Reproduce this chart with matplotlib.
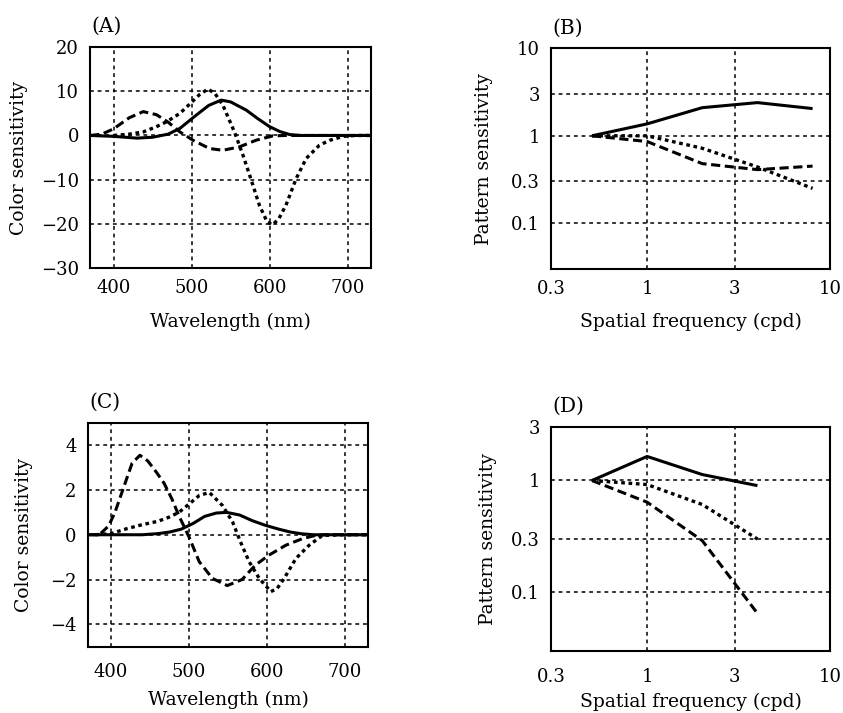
import matplotlib.pyplot as plt
import numpy as np

plt.rcParams['font.family'] = ['DejaVu Serif']

# (A) color sensitivity, wavelength in nm
a_solid_wl = [370, 400, 430, 450, 470, 485, 506, 522, 538, 550, 570, 585, 600, 613, 626, 640, 730]
a_solid = [0, -0.2, -0.6, -0.4, 0.3, 1.6, 4.6, 6.8, 8.0, 7.6, 5.75, 3.8, 2.0, 0.9, 0.2, 0, 0]
a_dash_wl = [370, 385, 400, 420, 438, 455, 470, 485, 502, 523, 540, 561, 583, 604, 620, 730]
a_dash = [0, 0.3, 1.5, 4.0, 5.4, 4.7, 3.0, 0.8, -1.1, -2.95, -3.35, -2.6, -1.06, -0.1, 0, 0]
a_dot_wl = [400, 420, 438, 455, 468, 485, 497, 510, 521, 530, 540, 555, 566, 576, 587,
            597, 604, 612, 621, 634, 647, 664, 677, 695, 710, 730]
a_dot = [0, 0.3, 0.8, 2.0, 3.1, 5.0, 7.0, 9.2, 10.5, 9.5, 6.9, 0.8, -4.5, -9.8, -15.8,
         -19.6, -20.2, -18.8, -15.8, -9.8, -5.2, -2.2, -1.1, -0.2, 0, 0]

# (C) color sensitivity
c_solid_wl = [370, 440, 460, 475, 490, 505, 520, 535, 548, 565, 581, 598, 615, 630, 645, 660, 730]
c_solid = [0, 0, 0.05, 0.12, 0.25, 0.5, 0.82, 0.97, 1.0, 0.88, 0.63, 0.42, 0.25, 0.12, 0.04, 0, 0]
c_dash_wl = [370, 385, 397, 405, 415, 427, 437, 447, 458, 468, 478, 487, 500, 513, 530,
             549, 568, 585, 602, 624, 645, 662, 675, 730]
c_dash = [0, 0, 0.4, 1.0, 2.0, 3.2, 3.55, 3.3, 2.8, 2.3, 1.6, 0.85, -0.1, -1.2, -1.95,
          -2.27, -2.0, -1.36, -0.92, -0.47, -0.18, -0.03, 0, 0]
c_dot_wl = [380, 400, 420, 440, 460, 474, 487, 500, 513, 526, 543, 556, 566, 577, 590,
            605, 613, 622, 637, 654, 671, 700, 730]
c_dot = [0, 0.05, 0.27, 0.45, 0.6, 0.78, 1.0, 1.37, 1.75, 1.89, 1.3, 0.56, -0.32, -1.2, -1.95,
         -2.54, -2.4, -1.95, -1.06, -0.47, -0.03, 0, 0]

# (B), (D) pattern sensitivity vs spatial frequency (cpd)
b_freq = [0.5, 1, 2, 4, 8]
b_solid = [1, 1.37, 2.1, 2.4, 2.05]
b_dash = [1, 0.86, 0.48, 0.41, 0.45]
b_dot = [1, 1.0, 0.72, 0.44, 0.25]

d_freq = [0.5, 1, 2, 4]
d_solid = [1, 1.64, 1.13, 0.90]
d_dash = [1, 0.64, 0.29, 0.065]
d_dot = [1, 0.92, 0.61, 0.30]

wl_ticks = [400, 500, 600, 700]
a_yticks = [-30, -20, -10, 0, 10, 20]
c_yticks = [-4, -2, 0, 2, 4]
f_ticks = [0.3, 1, 3, 10]
f_labels = ['0.3', '1', '3', '10']
b_yticks = [0.1, 0.3, 1, 3, 10]
b_ylabels = ['0.1', '0.3', '1', '3', '10']
d_yticks = [0.1, 0.3, 1, 3]
d_ylabels = ['0.1', '0.3', '1', '3']

TICK = 13
LAB = 13.5

fig = plt.figure(figsize=(8.43, 7.13), dpi=100)
axA = fig.add_axes([0.107, 0.624, 0.333, 0.310])
axB = fig.add_axes([0.654, 0.623, 0.331, 0.309])
axC = fig.add_axes([0.104, 0.093, 0.333, 0.314])
axD = fig.add_axes([0.654, 0.087, 0.331, 0.314])

lw = 2.2
def curves(ax, x1, y1, x2, y2, x3, y3):
    ax.plot(x1, y1, color='black', lw=lw, solid_capstyle='butt')
    ax.plot(x2, y2, color='black', lw=lw, dashes=(3, 1.5))
    ax.plot(x3, y3, color='black', lw=2.4, dashes=(1.1, 1.1))

def style(ax, label):
    for s in ax.spines.values():
        s.set_linewidth(1.5)
    ax.tick_params(length=0, labelsize=TICK, pad=8)
    ax.minorticks_off()
    ax.grid(True, color='black', lw=1.1, dashes=(2.5, 2.5))
    ax.set_axisbelow(True)
    ax.text(0.005, 1.05, label, transform=ax.transAxes, fontsize=14.5, va='bottom', ha='left')

curves(axA, a_solid_wl, a_solid, a_dash_wl, a_dash, a_dot_wl, a_dot)
axA.set_xlim(370, 730)
axA.set_ylim(-30, 20)
axA.set_xticks(wl_ticks)
axA.set_yticks(a_yticks)
axA.set_yticklabels(['\u221230', '\u221220', '\u221210', '0', '10', '20'])
axA.set_xlabel('Wavelength (nm)', fontsize=LAB, labelpad=11)
axA.set_ylabel('Color sensitivity', fontsize=LAB, labelpad=9)
style(axA, '(A)')

curves(axC, c_solid_wl, c_solid, c_dash_wl, c_dash, c_dot_wl, c_dot)
axC.set_xlim(370, 730)
axC.set_ylim(-5, 5)
axC.set_xticks(wl_ticks)
axC.set_yticks(c_yticks)
axC.set_yticklabels(['\u22124', '\u22122', '0', '2', '4'])
axC.set_xlabel('Wavelength (nm)', fontsize=LAB, labelpad=7)
axC.set_ylabel('Color sensitivity', fontsize=LAB, labelpad=12)
style(axC, '(C)')
axC.tick_params(axis='x', pad=12)

for ax, f, s, da, do, yt, yl, ylim, lab, lp in [
        (axB, b_freq, b_solid, b_dash, b_dot, b_yticks, b_ylabels, (0.03, 10), '(B)', 13),
        (axD, d_freq, d_solid, d_dash, d_dot, d_yticks, d_ylabels, (0.03, 3), '(D)', 10)]:
    curves(ax, f, s, f, da, f, do)
    ax.set_xscale('log')
    ax.set_yscale('log')
    ax.set_xlim(0.3, 10)
    ax.set_ylim(*ylim)
    ax.set_xticks(f_ticks)
    ax.set_xticklabels(f_labels)
    ax.set_yticks(yt)
    ax.set_yticklabels(yl)
    ax.set_ylabel('Pattern sensitivity', fontsize=LAB, labelpad=lp)
    style(ax, lab)

axB.set_xlabel('Spatial frequency (cpd)', fontsize=LAB, labelpad=11)
axD.set_xlabel('Spatial frequency (cpd)', fontsize=LAB, labelpad=5)
axD.tick_params(axis='x', pad=12)

fig.savefig('out.png', dpi=100)
